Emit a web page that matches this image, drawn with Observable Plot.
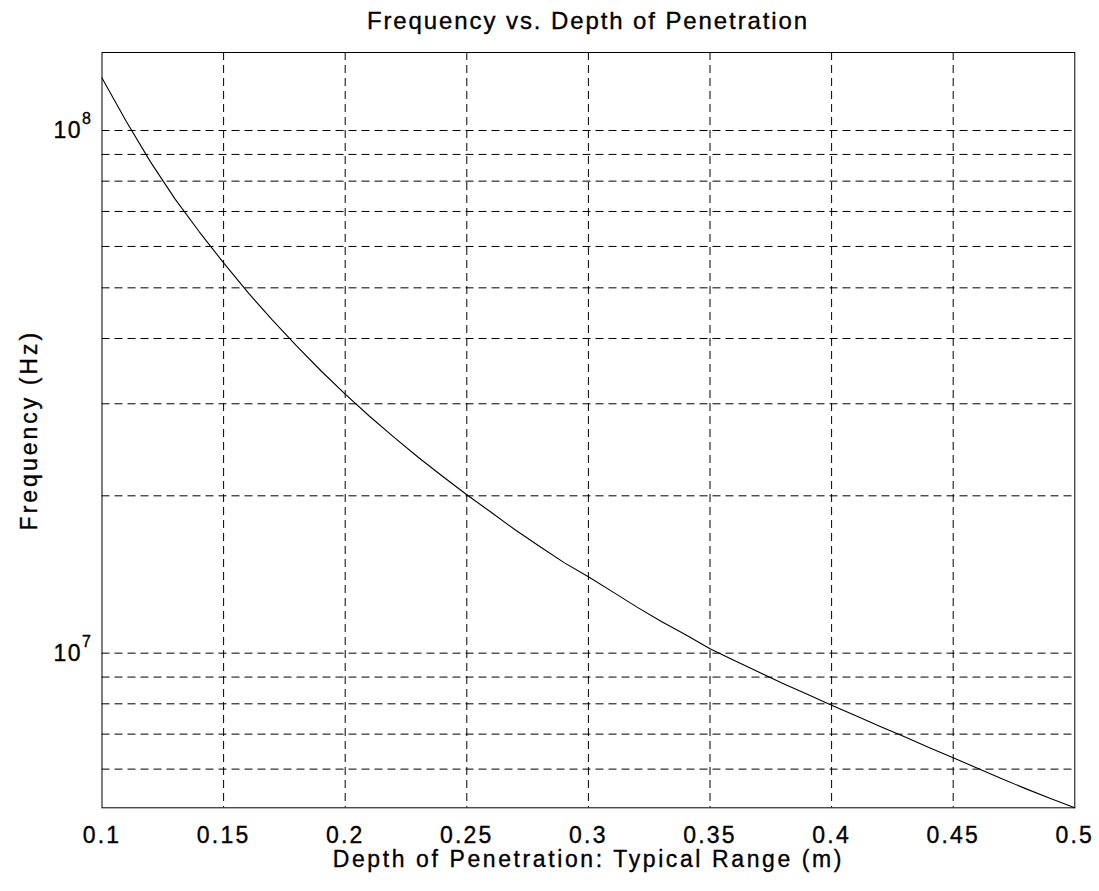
<!DOCTYPE html>
<html>
<head>
<meta charset="utf-8">
<script src="https://cdn.jsdelivr.net/npm/d3@7"></script>
<script src="https://cdn.jsdelivr.net/npm/@observablehq/plot@0.6"></script>
<style>
  html, body { margin: 0; padding: 0; background: #fff; }
  #wrap { position: relative; width: 1099px; height: 891px; font-family: "Liberation Sans", Arial, sans-serif; }
  #title { position: absolute; left: 101.5px; width: 973px; top: 9px; text-align: center; font-size: 24px; line-height: 24px; letter-spacing: 1.9px; color: #000; -webkit-text-stroke: 0.35px #000; }
  #chart { position: absolute; left: 0; top: 40px; }
</style>
</head>
<body>
<div id="wrap">
  <div id="title">Frequency vs. Depth of Penetration</div>
  <div id="chart"></div>
</div>
<script>
// Depth of penetration (m)
const depth = [0.10,0.11,0.12,0.13,0.14,0.15,0.16,0.17,0.18,0.19,0.20,0.21,0.22,0.23,0.24,0.25,0.26,0.27,0.28,0.29,0.30,0.31,0.32,0.33,0.34,0.35,0.36,0.37,0.38,0.39,0.40,0.41,0.42,0.43,0.44,0.45,0.46,0.47,0.48,0.49,0.50];
// Frequency (Hz)
const frequency = [1.26e8,1.04e8,8.7e7,7.4e7,6.4e7,5.58e7,4.9e7,4.34e7,3.87e7,3.47e7,3.13e7,2.84e7,2.59e7,2.37e7,2.18e7,2.01e7,1.86e7,1.72e7,1.60e7,1.49e7,1.40e7,1.31e7,1.225e7,1.15e7,1.085e7,1.02e7,9.68e6,9.2e6,8.75e6,8.34e6,7.95e6,7.59e6,7.24e6,6.92e6,6.6e6,6.31e6,6.02e6,5.75e6,5.5e6,5.27e6,5.06e6];
const xTicks = [0.1,0.15,0.2,0.25,0.3,0.35,0.4,0.45,0.5];
const xGrid = [0.15,0.2,0.25,0.3,0.35,0.4,0.45];
const yTicks = [1e7,1e8];
const yTickBase = "10";
const yTickExponents = ["7","8"];
const yGrid = [6e6,7e6,8e6,9e6,1e7,2e7,3e7,4e7,5e7,6e7,7e7,8e7,9e7,1e8];
const yDomain = [5.06e6,1.41e8];
const xDomain = [0.1,0.5];
const title = "Frequency vs. Depth of Penetration";
const xLabel = "Depth of Penetration: Typical Range (m)";
const yLabel = "Frequency (Hz)";

const data = depth.map((d, i) => ({depth: d, frequency: frequency[i]}));
const tickId = d => "__tick" + yTicks.indexOf(d);

const chart = Plot.plot({
  width: 1099,
  height: 851,
  marginLeft: 101.5,
  marginRight: 24.7,
  marginTop: 12,
  marginBottom: 83.7,
  style: {fontFamily: "'Liberation Sans', Arial, sans-serif", fontSize: "23px", color: "#000", background: "#fff"},
  x: {domain: xDomain},
  y: {type: "log", domain: yDomain},
  marks: [
    Plot.ruleX(xGrid, {stroke: "#000", strokeWidth: 1, strokeDasharray: "8,5"}),
    Plot.ruleY(yGrid, {stroke: "#000", strokeWidth: 1, strokeDasharray: "8,5"}),
    Plot.line(data, {x: "depth", y: "frequency", stroke: "#000", strokeWidth: 1.1}),
    Plot.frame({stroke: "#000", strokeWidth: 1}),
    Plot.axisX({ticks: xTicks, tickFormat: d => String(+d.toFixed(2)), tickSize: 0, tickPadding: 19, fontSize: 23,
      label: xLabel, labelAnchor: "center", labelOffset: 59, labelArrow: "none"}),
    Plot.axisY({ticks: yTicks, tickFormat: tickId, tickSize: 0, tickPadding: 11, fontSize: 23,
      label: yLabel, labelAnchor: "center", labelOffset: 81, labelArrow: "none"})
  ]
});
const NS = "http://www.w3.org/2000/svg";
chart.querySelectorAll("text").forEach(t => {
  const s = t.textContent;
  t.style.stroke = "#000";
  t.style.strokeWidth = "0.35px";
  if (s === xLabel) t.style.letterSpacing = "2.6px";
  else if (s === yLabel) t.style.letterSpacing = "3px";
  else if (s.startsWith("__tick")) {
    const i = +s.slice(6);
    t.textContent = "";
    const a = document.createElementNS(NS, "tspan");
    a.textContent = yTickBase;
    a.style.letterSpacing = "1.5px";
    const b = document.createElementNS(NS, "tspan");
    b.textContent = yTickExponents[i];
    b.setAttribute("dy", "-14");
    b.setAttribute("font-size", "16");
    t.appendChild(a);
    t.appendChild(b);
  }
  else t.style.letterSpacing = "2.2px";
});
document.getElementById("chart").appendChild(chart);
</script>
</body>
</html>
